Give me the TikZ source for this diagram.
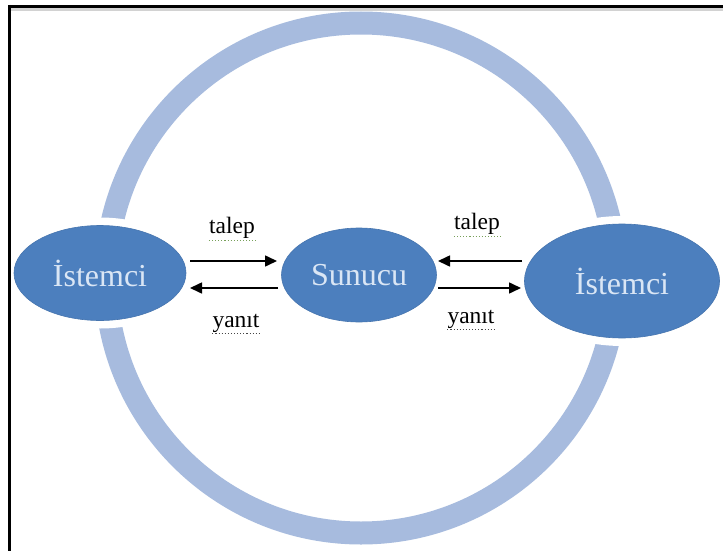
\documentclass[tikz,border=0pt]{standalone}
\usepackage{fontspec}
\setmainfont{Liberation Serif}
\usetikzlibrary{shapes.geometric,arrows.meta}
\definecolor{ringblue}{RGB}{167,187,222}
\definecolor{ellblue}{RGB}{76,127,190}
\definecolor{txtlight}{RGB}{218,230,245}
\definecolor{squigG}{RGB}{120,160,90}
\definecolor{squigD}{RGB}{70,70,70}
\tikzset{
  blob/.style={ellipse, fill=ellblue, draw=ellblue!92!black, line width=0.6pt,
    preaction={draw=white, line width=16pt},
    text=txtlight, font=\fontsize{32}{36}\selectfont, inner sep=0pt},
  lbl/.style={font=\fontsize{23.5}{27}\selectfont, text=black, inner sep=0pt},
  arr/.style={-{Triangle[length=12pt,width=11pt]}, line width=1.6pt, black},
  squig/.style={dotted, line width=1.1pt},
}
\begin{document}
\begin{tikzpicture}[x=1pt,y=-1pt]
\useasboundingbox (0,0) rectangle (723,551);
\fill[white] (0,0) rectangle (723,551);
% ring
\draw[ringblue, line width=23pt] (361,278) circle[radius=255];
% ellipses
\node[blob, minimum width=172pt, minimum height=95pt] (L) at (100,273) {İstemci};
\node[blob, minimum width=155pt, minimum height=94pt] (S) at (359,275) {Sunucu};
\node[blob, minimum width=195pt, minimum height=114pt] (R) at (622,281) {İstemci};
% arrow end points
\coordinate (a1s) at (190,261); \coordinate (a1e) at (277,261);
\coordinate (a2s) at (278,288); \coordinate (a2e) at (190,288);
\coordinate (a3s) at (522,261); \coordinate (a3e) at (438,261);
\coordinate (a4s) at (438,288); \coordinate (a4e) at (521,288);
\draw[arr] (a1s) -- (a1e);
\draw[arr] (a2s) -- (a2e);
\draw[arr] (a3s) -- (a3e);
\draw[arr] (a4s) -- (a4e);
% labels
\node[lbl] (t1) at (232,228) {talep};
\node[lbl] (y1) at (236,323) {yanıt};
\node[lbl] (t2) at (477,224) {talep};
\node[lbl] (y2) at (471,319) {yanıt};
% spell-check underlines
\draw[squig, squigG] (t1.south west) ++(0,1.5) -- ++(47,0);
\draw[squig, squigD] (y1.south west) ++(0,1.5) -- ++(48,0);
\draw[squig, squigG] (t2.south west) ++(0,1.5) -- ++(47,0);
\draw[squig, squigD] (y2.south west) ++(0,1.5) -- ++(48,0);
% frame
\draw[gray!35, line width=3pt] (11,10) -- (723,10);
\draw[black, line width=3pt] (8,6.5) -- (723,6.5);
\draw[black, line width=3pt] (9.5,5) -- (9.5,551);
\end{tikzpicture}
\end{document}
